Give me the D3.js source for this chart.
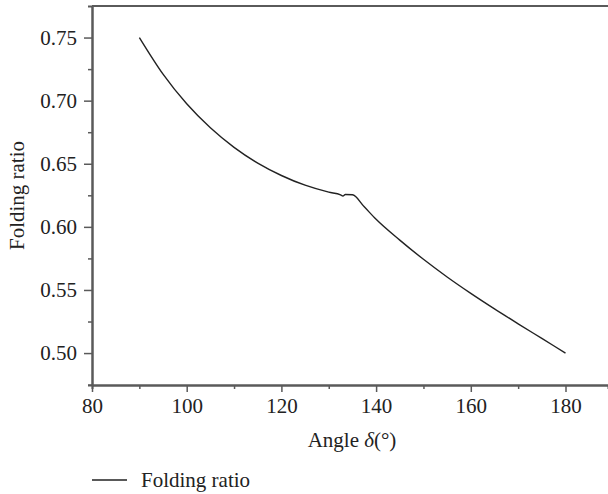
<!DOCTYPE html>
<html>
<head>
<meta charset="utf-8">
<script src="https://cdn.jsdelivr.net/npm/d3@7"></script>
<style>
  body { margin: 0; background: #fff; }
  text { font-family: "Liberation Serif", "DejaVu Serif", serif; fill: #222; }
</style>
</head>
<body>
<div id="viz"></div>
<script>
// data
const angles = [90, 95, 100, 105, 110, 115, 120, 125, 130, 132.5, 133, 133.5, 135, 137.5, 140, 145, 150, 155, 160, 165, 170, 175, 180];
const ratios = [0.750, 0.721, 0.6975, 0.6785, 0.663, 0.6505, 0.6407, 0.633, 0.6275, 0.6254, 0.6245, 0.6256, 0.6254, 0.6159, 0.606, 0.5895, 0.5743, 0.5603, 0.5473, 0.535, 0.5232, 0.5116, 0.500];
const xTicks = [80, 100, 120, 140, 160, 180];
const yTicks = [0.50, 0.55, 0.60, 0.65, 0.70, 0.75];
const seriesName = 'Folding ratio';

const width = 608;
const height = 494;
const margin = {top: 6, right: 0, bottom: 109, left: 92};
const boundedWidth = width - margin.left - margin.right;
const boundedHeight = height - margin.top - margin.bottom;

const data = angles.map((a, i) => ({x: a, y: ratios[i]}));

const svg = d3.select('#viz')
    .append('svg')
        .attr('width', width)
        .attr('height', height);

const viz = svg.append('g')
    .attr('transform', `translate(${margin.left}, ${margin.top})`);

const xScale = d3.scaleLinear()
    .domain([80, 80 + boundedWidth / 4.735])
    .range([0, boundedWidth]);

const yScale = d3.scaleLinear()
    .domain([0.4747, 0.775])
    .range([boundedHeight, 0]);

// minor ticks first (shorter)
const axisColor = '#5a5a5a';
const xMinor = d3.axisBottom(xScale).tickValues(d3.range(90, 190, 20)).tickSize(4).tickFormat('');
const yMinor = d3.axisLeft(yScale).tickValues([0.475, 0.525, 0.575, 0.625, 0.675, 0.725]).tickSize(4).tickFormat('');

viz.append('g').attr('transform', `translate(0, ${boundedHeight})`).call(xMinor);
viz.append('g').call(yMinor);

const xAxis = d3.axisBottom(xScale).tickValues(xTicks).tickSize(7).tickPadding(6).tickSizeOuter(0);
const yAxis = d3.axisLeft(yScale).tickValues(yTicks).tickSize(8).tickPadding(7).tickFormat(d3.format('.2f')).tickSizeOuter(0);

viz.append('g').attr('class', 'x-axis').attr('transform', `translate(0, ${boundedHeight})`).call(xAxis);
viz.append('g').attr('class', 'y-axis').call(yAxis);

viz.selectAll('.domain').attr('stroke', axisColor).attr('stroke-width', 2);
viz.selectAll('.tick line').attr('stroke', axisColor).attr('stroke-width', 1.5);
viz.selectAll('.tick text').style('font-size', '21px').attr('fill', '#222');

// top frame line
viz.append('line')
    .attr('x1', 0).attr('x2', boundedWidth)
    .attr('y1', 0).attr('y2', 0)
    .attr('stroke', axisColor).attr('stroke-width', 2);

// the curve
const line = d3.line()
    .x(d => xScale(d.x))
    .y(d => yScale(d.y))
    .curve(d3.curveMonotoneX);

viz.append('path')
    .datum(data)
    .attr('fill', 'none')
    .attr('stroke', '#222')
    .attr('stroke-width', 1.4)
    .attr('d', line);

// axis titles
svg.append('text')
    .attr('x', 352).attr('y', 447)
    .attr('text-anchor', 'middle')
    .style('font-size', '21px')
    .html('Angle <tspan font-style="italic">δ</tspan>(°)');

svg.append('text')
    .attr('transform', `translate(24, ${margin.top + boundedHeight / 2}) rotate(-90)`)
    .attr('text-anchor', 'middle')
    .style('font-size', '21px')
    .text('Folding ratio');

// legend
svg.append('line')
    .attr('x1', 92).attr('x2', 127)
    .attr('y1', 480).attr('y2', 480)
    .attr('stroke', '#222').attr('stroke-width', 1.4);

svg.append('text')
    .attr('x', 141).attr('y', 487)
    .style('font-size', '21px')
    .text(seriesName);
</script>
</body>
</html>
